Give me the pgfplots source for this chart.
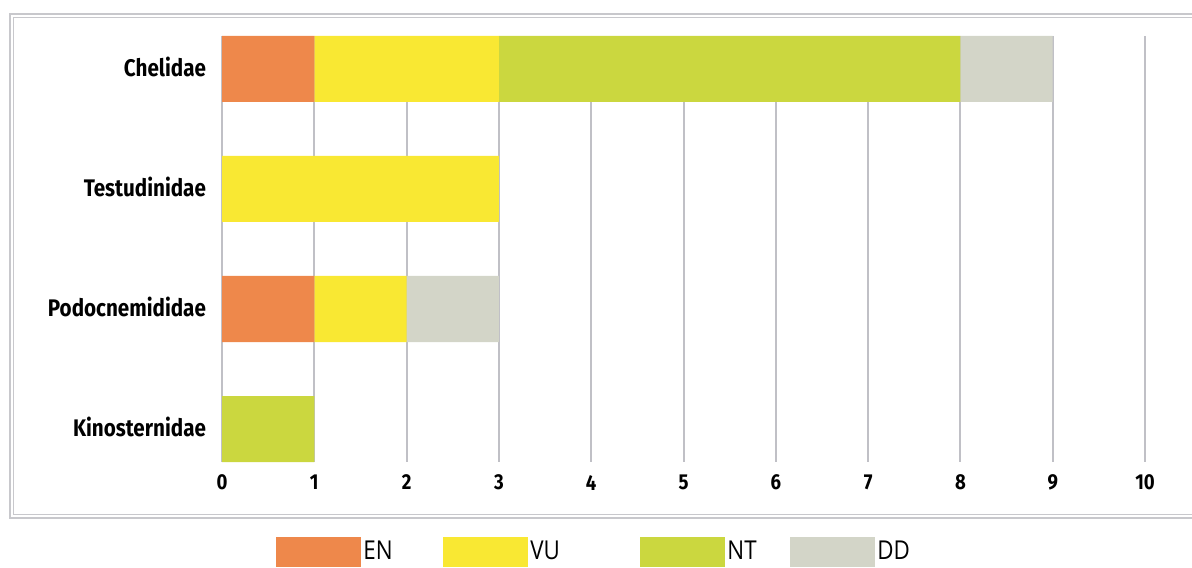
\documentclass[border=0pt]{standalone}
\usepackage{fontspec}
\setmainfont{Fira Sans}[FakeStretch=0.86]
\newfontfamily\legfont{Open Sans}[FakeStretch=0.86]
\usepackage{pgfplots}
\pgfplotsset{compat=1.18}
\definecolor{cEN}{HTML}{EE884B}
\definecolor{cVU}{HTML}{F9E833}
\definecolor{cNT}{HTML}{CBD73F}
\definecolor{cDD}{HTML}{D3D5C8}
\definecolor{cGrid}{HTML}{C0C0C6}
\definecolor{cFrame}{HTML}{C8C8CC}
\begin{document}
\begin{tikzpicture}
\useasboundingbox (0,0) rectangle (596pt,283.5pt);
\draw[cFrame, line width=0.7pt] (5pt,276.5pt) rectangle (620pt,24.5pt);
\draw[cFrame, line width=0.7pt] (6.7pt,274.8pt) rectangle (620pt,26.2pt);
\begin{axis}[
  at={(111pt,52.5pt)}, anchor=south west,
  width=461.5pt, height=213pt, scale only axis,
  xbar stacked, bar width=0.55,
  xmin=0, xmax=10, ymin=-0.275, ymax=3.275,
  y dir=reverse,
  xtick={0,...,10}, ytick={0,1,2,3},
  yticklabels={Chelidae,Testudinidae,Podocnemididae,Kinosternidae},
  xmajorgrids, grid style={cGrid, line width=1pt},
  axis line style={draw=none}, major tick length=0pt,
  /pgf/number format/assume math mode=true,
  x tick label style={font=\fontsize{10.8}{12}\selectfont\bfseries, yshift=-3pt},
  y tick label style={font=\fontsize{12}{14}\selectfont\bfseries, xshift=-4.5pt, yshift=1pt},
  legend columns=4,
  legend style={at={(rel axis cs:0.0585,-0.2113)}, anchor=west, draw=none, fill=none,
    inner sep=0pt, font=\legfont\fontsize{13}{15}\selectfont,
    nodes={inner sep=1pt},
    /tikz/every even column/.append style={column sep=0pt}},
  legend cell align=left,
  legend image code/.code={\fill[#1] (0pt,-7.5pt) rectangle (42.5pt,7.5pt);},
]
\addplot[fill=cEN, draw=none] coordinates {(1,0) (0,1) (1,2) (0,3)};
\addplot[fill=cVU, draw=none] coordinates {(2,0) (3,1) (1,2) (0,3)};
\addplot[fill=cNT, draw=none] coordinates {(5,0) (0,1) (0,2) (1,3)};
\addplot[fill=cDD, draw=none] coordinates {(1,0) (0,1) (1,2) (0,3)};
\legend{\makebox[39pt][l]{EN},\makebox[54pt][l]{VU},\makebox[30.5pt][l]{NT},\makebox[20pt][l]{DD}}
\end{axis}
\end{tikzpicture}
\end{document}
